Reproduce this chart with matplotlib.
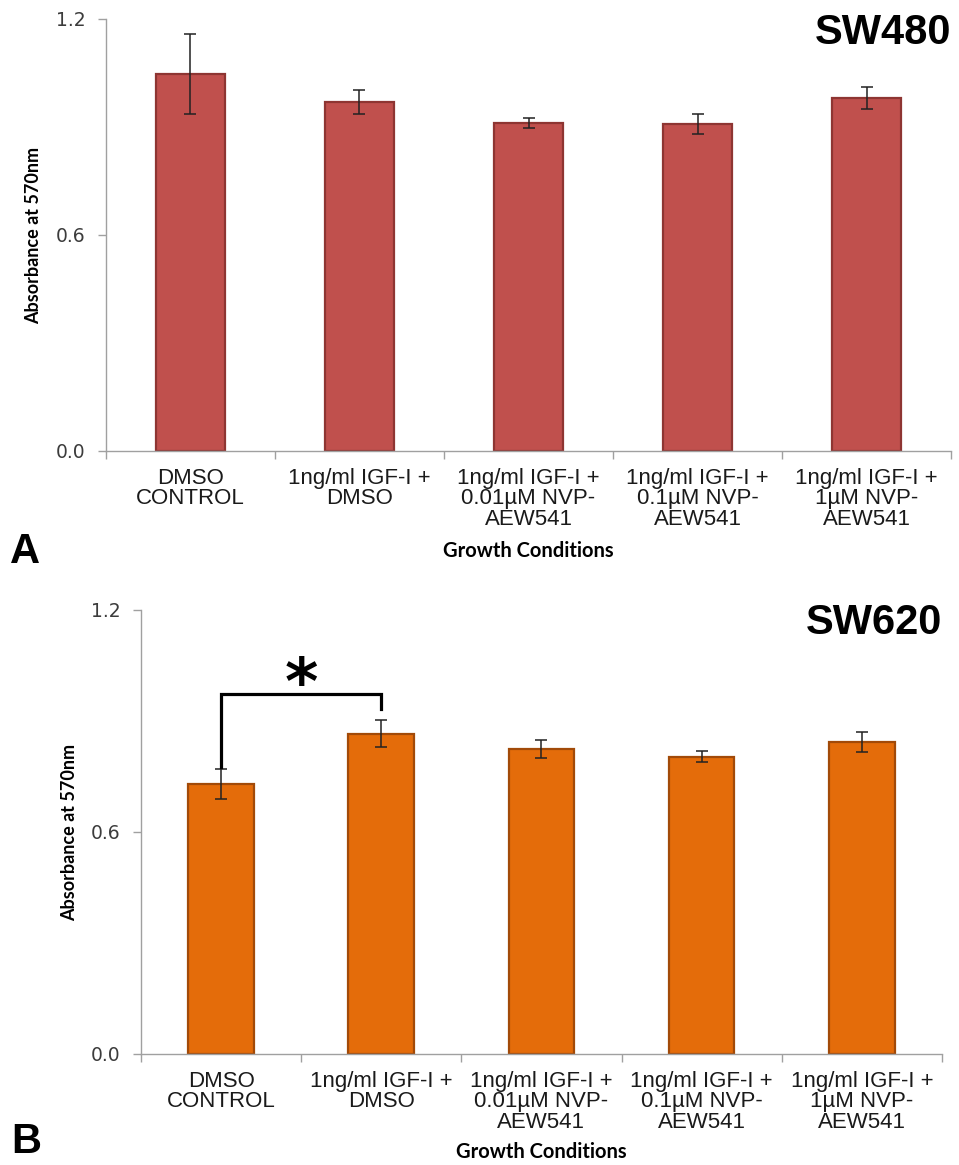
import matplotlib
matplotlib.use("Agg")
import matplotlib.pyplot as plt
import numpy as np

categories = ["DMSO\nCONTROL", "1ng/ml IGF-I +\nDMSO", "1ng/ml IGF-I +\n0.01µM NVP-\nAEW541",
              "1ng/ml IGF-I +\n0.1µM NVP-\nAEW541", "1ng/ml IGF-I +\n1µM NVP-\nAEW541"]

sw480_mean = [1.047, 0.969, 0.911, 0.908, 0.981]
sw480_err = [0.110, 0.034, 0.014, 0.028, 0.030]

sw620_mean = [0.730, 0.866, 0.824, 0.803, 0.842]
sw620_err = [0.041, 0.036, 0.025, 0.015, 0.027]

yticks = [0.0, 0.6, 1.2]

# significance bracket between DMSO CONTROL and IGF-I + DMSO (SW620)
sig_pair = (0, 1)
sig_top = 0.973
sig_ends = (0.775, 0.932)
sig_star_y = 0.995


def draw_panel(ax, means, errs, color, edge, name):
    x = np.arange(len(categories))
    ax.bar(x, means, width=0.41, color=color, edgecolor=edge, linewidth=1.6, zorder=2)
    ax.errorbar(x, means, yerr=errs, fmt="none", ecolor="#222222", elinewidth=1.1,
                capsize=4.3, capthick=1.1, zorder=3)
    ax.set_xlim(-0.5, len(categories) - 0.5)
    ax.set_ylim(0, 1.2)
    ax.set_yticks(yticks)
    ax.set_yticklabels([f"{v:.1f}" for v in yticks], fontfamily="DejaVu Sans",
                       fontsize=13.5, color="#3c3c3c")
    ax.set_xticks(x)
    ax.set_xticklabels(categories, fontfamily="Liberation Sans", fontsize=16,
                       color="#1a1a1a", linespacing=0.98)
    ax.set_xticks(np.arange(len(categories) + 1) - 0.5, minor=True)
    ax.tick_params(axis="x", which="major", length=0, pad=12)
    ax.tick_params(axis="x", which="minor", length=5.8, color="#a0a0a0", width=1)
    ax.tick_params(axis="y", length=5.8, color="#a0a0a0", width=1, pad=9)
    for s in ["top", "right"]:
        ax.spines[s].set_visible(False)
    for s in ["left", "bottom"]:
        ax.spines[s].set_color("#a0a0a0")
        ax.spines[s].set_linewidth(1)
    ax.set_ylabel("Absorbance at 570nm", fontfamily="Lato", fontweight="bold", fontsize=13)
    ax.text(1.0, 1.0, name, transform=ax.transAxes, ha="right", va="center",
            fontfamily="Liberation Sans", fontweight="bold", fontsize=30)


fig = plt.figure(figsize=(9.59, 11.65), dpi=100)

ax1 = fig.add_axes([0.1105, 0.6129, 0.8812, 0.3708])
draw_panel(ax1, sw480_mean, sw480_err, "#C0504D", "#8E3532", "SW480")
ax1.texts[-1].set_position((1.0, 0.967))
ax1.yaxis.set_label_coords(-0.075, 0.50)

ax2 = fig.add_axes([0.147, 0.0953, 0.8352, 0.3811])
draw_panel(ax2, sw620_mean, sw620_err, "#E46C0A", "#A24A08", "SW620")
ax2.texts[-1].set_position((1.0, 0.97))
ax2.yaxis.set_label_coords(-0.079, 0.50)

# significance bracket
x0, x1 = sig_pair
ax2.plot([x0, x0, x1, x1], [sig_ends[0], sig_top, sig_top, sig_ends[1]],
         color="black", linewidth=2.3, solid_joinstyle="miter", zorder=4)
ax2.text((x0 + x1) / 2, sig_star_y, "*", ha="center", va="center",
         fontfamily="DejaVu Sans", fontweight="bold", fontsize=46)

# x axis titles and panel letters
fig.text(528 / 959, 1 - 551 / 1165, "Growth Conditions", ha="center", va="center",
         fontfamily="Lato", fontweight="bold", fontsize=14.5)
fig.text(541 / 959, 1 - 1152 / 1165, "Growth Conditions", ha="center", va="center",
         fontfamily="Lato", fontweight="bold", fontsize=14.5)
fig.text(10 / 959, 1 - 552 / 1165, "A", ha="left", va="center",
         fontfamily="Liberation Sans", fontweight="bold", fontsize=30)
fig.text(11 / 959, 1 - 1142 / 1165, "B", ha="left", va="center",
         fontfamily="Liberation Sans", fontweight="bold", fontsize=30)

fig.savefig("out.png", dpi=100)
